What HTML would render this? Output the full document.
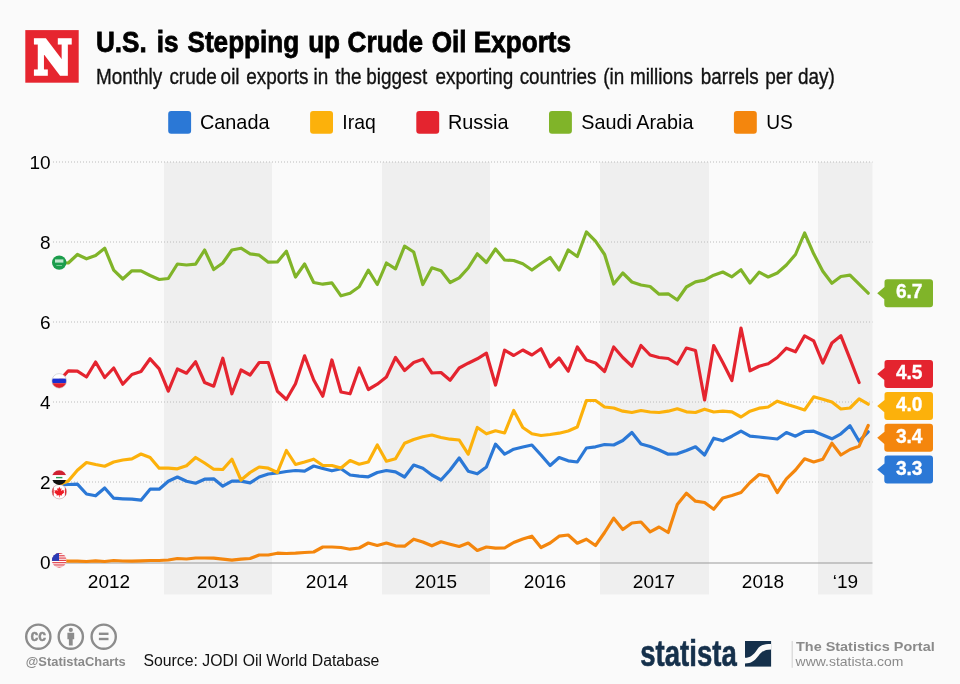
<!DOCTYPE html>
<html lang="en"><head><meta charset="utf-8"><title>U.S. is Stepping up Crude Oil Exports</title>
<style>html,body{margin:0;padding:0;background:#fafafa;overflow:hidden}svg{display:block}text{font-family:"Liberation Sans",sans-serif}</style></head><body>
<svg width="960" height="684" viewBox="0 0 960 684">
<rect width="960" height="684" fill="#fafafa"/>
<rect x="25.3" y="30.1" width="53.4" height="52.6" fill="#e6252f"/>
<text x="33.7" y="73.6" font-weight="bold" font-size="46" fill="#fff" stroke="#fff" stroke-width="3.6" stroke-linejoin="miter" textLength="38" lengthAdjust="spacingAndGlyphs" style="font-family:'DejaVu Serif','Liberation Serif',serif">N</text>
<text transform="scale(0.86 1)" y="52.2" font-weight="bold" font-size="30.4" fill="#000" stroke="#000" stroke-width="0.8"><tspan x="111.6">U.S. </tspan><tspan x="182.4">is </tspan><tspan x="218.0">Stepping </tspan><tspan x="358.3">up </tspan><tspan x="404.2">Crude </tspan><tspan x="501.9">Oil </tspan><tspan x="550.9">Exports</tspan></text>
<text transform="scale(0.88 1)" y="83.6" font-size="21.5" fill="#111" stroke="#111" stroke-width="0.35"><tspan x="109.1">Monthly </tspan><tspan x="192.5">crude </tspan><tspan x="250.7">oil </tspan><tspan x="279.9">exports </tspan><tspan x="356.2">in </tspan><tspan x="380.9">the </tspan><tspan x="416.2">biggest </tspan><tspan x="494.8">exporting </tspan><tspan x="590.5">countries </tspan><tspan x="685.6">(in </tspan><tspan x="715.8">millions </tspan><tspan x="796.4">barrels </tspan><tspan x="869.7">per </tspan><tspan x="906.9">day)</tspan></text>
<rect x="168.2" y="110.9" width="22.9" height="22.8" rx="3" fill="#2b78d6"/>
<text x="199.9" y="129.2" font-size="20.3" fill="#000" textLength="69.6" lengthAdjust="spacingAndGlyphs">Canada</text>
<rect x="310.1" y="110.9" width="22.9" height="22.8" rx="3" fill="#fcb10b"/>
<text x="342.3" y="129.2" font-size="20.3" fill="#000" textLength="33.4" lengthAdjust="spacingAndGlyphs">Iraq</text>
<rect x="416.3" y="110.9" width="22.9" height="22.8" rx="3" fill="#e4242f"/>
<text x="447.9" y="129.2" font-size="20.3" fill="#000" textLength="60.6" lengthAdjust="spacingAndGlyphs">Russia</text>
<rect x="549.0" y="110.9" width="22.9" height="22.8" rx="3" fill="#80b429"/>
<text x="581.2" y="129.2" font-size="20.3" fill="#000" textLength="112.2" lengthAdjust="spacingAndGlyphs">Saudi Arabia</text>
<rect x="733.9" y="110.9" width="22.9" height="22.8" rx="3" fill="#f4860d"/>
<text x="766.2" y="129.2" font-size="20.3" fill="#000" textLength="26.6" lengthAdjust="spacingAndGlyphs">US</text>
<rect x="164.0" y="162" width="108.0" height="432.5" fill="#efefef"/>
<rect x="382.0" y="162" width="108.0" height="432.5" fill="#efefef"/>
<rect x="600.0" y="162" width="109.0" height="432.5" fill="#efefef"/>
<rect x="818.0" y="162" width="54.5" height="432.5" fill="#efefef"/>
<line x1="53" x2="872.5" y1="482.0" y2="482.0" stroke="#bcbcbc" stroke-width="1" stroke-dasharray="1 2"/>
<line x1="53" x2="872.5" y1="402.0" y2="402.0" stroke="#bcbcbc" stroke-width="1" stroke-dasharray="1 2"/>
<line x1="53" x2="872.5" y1="322.0" y2="322.0" stroke="#bcbcbc" stroke-width="1" stroke-dasharray="1 2"/>
<line x1="53" x2="872.5" y1="242.0" y2="242.0" stroke="#bcbcbc" stroke-width="1" stroke-dasharray="1 2"/>
<line x1="53" x2="872.5" y1="162.0" y2="162.0" stroke="#bcbcbc" stroke-width="1" stroke-dasharray="1 2"/>
<line x1="53" x2="872.5" y1="563" y2="563" stroke="#9a9a9a" stroke-width="1.2"/>
<text x="50.7" y="568.5" text-anchor="end" font-size="19" fill="#000">0</text>
<text x="50.7" y="488.5" text-anchor="end" font-size="19" fill="#000">2</text>
<text x="50.7" y="408.5" text-anchor="end" font-size="19" fill="#000">4</text>
<text x="50.7" y="328.5" text-anchor="end" font-size="19" fill="#000">6</text>
<text x="50.7" y="248.5" text-anchor="end" font-size="19" fill="#000">8</text>
<text x="50.7" y="168.5" text-anchor="end" font-size="19" fill="#000">10</text>
<text x="109.0" y="587.5" text-anchor="middle" font-size="19" fill="#000">2012</text>
<text x="218.0" y="587.5" text-anchor="middle" font-size="19" fill="#000">2013</text>
<text x="327.0" y="587.5" text-anchor="middle" font-size="19" fill="#000">2014</text>
<text x="436.0" y="587.5" text-anchor="middle" font-size="19" fill="#000">2015</text>
<text x="545.0" y="587.5" text-anchor="middle" font-size="19" fill="#000">2016</text>
<text x="654.0" y="587.5" text-anchor="middle" font-size="19" fill="#000">2017</text>
<text x="763.0" y="587.5" text-anchor="middle" font-size="19" fill="#000">2018</text>
<text x="845.5" y="587.5" text-anchor="middle" font-size="19" fill="#000">‘19</text>
<polyline fill="none" stroke="#2b78d6" stroke-width="3.2" stroke-linejoin="round" stroke-linecap="round" points="59.2,485.0 68.3,484.5 77.4,484.2 86.5,494.0 95.6,495.8 104.7,488.0 113.7,498.2 122.8,498.8 131.9,499.2 141.0,500.2 150.1,489.2 159.2,489.2 168.3,481.2 177.4,477.0 186.5,481.2 195.6,483.2 204.6,479.2 213.7,478.8 222.8,486.2 231.9,481.2 241.0,481.2 250.1,482.8 259.2,477.0 268.3,474.0 277.4,473.0 286.4,471.5 295.5,470.5 304.6,471.2 313.7,466.0 322.8,468.5 331.9,470.8 341.0,468.8 350.1,475.0 359.2,476.2 368.3,476.8 377.3,472.5 386.4,470.5 395.5,471.8 404.6,477.0 413.7,465.0 422.8,468.2 431.9,475.0 441.0,480.0 450.1,470.0 459.2,458.0 468.2,471.2 477.3,473.8 486.4,467.0 495.5,444.2 504.6,454.2 513.7,449.2 522.8,447.0 531.9,445.0 541.0,455.0 550.1,465.5 559.1,457.5 568.2,460.8 577.3,462.0 586.4,448.0 595.5,446.8 604.6,444.5 613.7,445.0 622.8,440.5 631.9,432.5 641.0,444.0 650.1,446.5 659.1,450.0 668.2,454.2 677.3,453.8 686.4,450.5 695.5,446.8 704.6,455.0 713.7,438.2 722.8,440.8 731.9,436.2 741.0,431.2 750.0,436.2 759.1,437.0 768.2,438.0 777.3,439.0 786.4,432.5 795.5,436.2 804.6,431.5 813.7,431.2 822.8,435.0 831.9,438.8 840.9,433.8 850.0,425.8 859.1,441.2 868.2,431.8"/>
<polyline fill="none" stroke="#fcb10b" stroke-width="3.2" stroke-linejoin="round" stroke-linecap="round" points="59.2,484.5 68.3,481.0 77.4,470.3 86.5,462.5 95.6,464.5 104.7,466.2 113.7,462.0 122.8,460.0 131.9,458.8 141.0,454.0 150.1,457.5 159.2,468.2 168.3,468.2 177.4,468.8 186.5,465.8 195.6,457.5 204.6,463.0 213.7,469.2 222.8,469.5 231.9,459.2 241.0,480.0 250.1,472.5 259.2,467.0 268.3,468.2 277.4,472.5 286.4,450.5 295.5,464.5 304.6,462.0 313.7,459.2 322.8,465.5 331.9,465.5 341.0,468.0 350.1,460.5 359.2,464.2 368.3,462.0 377.3,445.0 386.4,461.2 395.5,458.8 404.6,443.2 413.7,439.5 422.8,436.8 431.9,435.0 441.0,437.5 450.1,439.2 459.2,440.0 468.2,454.2 477.3,427.5 486.4,433.8 495.5,430.8 504.6,433.0 513.7,410.5 522.8,427.5 531.9,433.8 541.0,435.5 550.1,434.5 559.1,433.2 568.2,431.0 577.3,427.0 586.4,400.5 595.5,400.5 604.6,407.0 613.7,408.0 622.8,411.2 631.9,412.5 641.0,410.5 650.1,412.0 659.1,412.5 668.2,411.2 677.3,408.8 686.4,411.8 695.5,412.5 704.6,409.2 713.7,412.0 722.8,411.2 731.9,411.8 741.0,417.0 750.0,411.2 759.1,408.2 768.2,407.0 777.3,401.2 786.4,404.2 795.5,407.0 804.6,410.0 813.7,396.8 822.8,399.2 831.9,402.0 840.9,409.0 850.0,408.0 859.1,398.8 868.2,404.2"/>
<polyline fill="none" stroke="#e4242f" stroke-width="3.2" stroke-linejoin="round" stroke-linecap="round" points="59.2,380.9 68.3,370.8 77.4,371.2 86.5,377.0 95.6,362.0 104.7,377.5 113.7,368.0 122.8,384.2 131.9,374.5 141.0,371.5 150.1,358.8 159.2,368.8 168.3,391.2 177.4,369.0 186.5,373.2 195.6,361.8 204.6,382.5 213.7,386.2 222.8,358.2 231.9,393.8 241.0,370.0 250.1,375.0 259.2,362.5 268.3,362.5 277.4,391.2 286.4,399.5 295.5,383.8 304.6,355.8 313.7,380.0 322.8,396.2 331.9,360.0 341.0,392.0 350.1,393.8 359.2,368.0 368.3,389.5 377.3,384.2 386.4,377.0 395.5,357.5 404.6,370.5 413.7,362.5 422.8,359.2 431.9,373.0 441.0,372.5 450.1,380.2 459.2,368.0 468.2,363.2 477.3,358.8 486.4,353.2 495.5,385.0 504.6,350.2 513.7,355.5 522.8,350.0 531.9,355.0 541.0,348.8 550.1,366.8 559.1,358.0 568.2,371.2 577.3,347.0 586.4,360.0 595.5,363.0 604.6,371.5 613.7,347.0 622.8,357.5 631.9,366.2 641.0,345.5 650.1,355.0 659.1,357.5 668.2,358.5 677.3,364.0 686.4,348.0 695.5,350.5 704.6,400.0 713.7,345.5 722.8,362.5 731.9,380.5 741.0,328.0 750.0,370.8 759.1,366.2 768.2,363.8 777.3,357.5 786.4,348.2 795.5,351.8 804.6,335.8 813.7,340.8 822.8,363.0 831.9,343.0 840.9,335.8 850.0,358.8 859.1,382.5"/>
<polyline fill="none" stroke="#80b429" stroke-width="3.2" stroke-linejoin="round" stroke-linecap="round" points="59.2,262.6 68.3,263.0 77.4,254.5 86.5,258.8 95.6,255.5 104.7,248.2 113.7,270.2 122.8,279.0 131.9,270.8 141.0,270.8 150.1,275.5 159.2,279.5 168.3,278.5 177.4,264.0 186.5,265.0 195.6,264.2 204.6,250.0 213.7,269.5 222.8,263.0 231.9,250.0 241.0,248.2 250.1,253.8 259.2,255.2 268.3,262.2 277.4,262.0 286.4,251.2 295.5,277.0 304.6,264.0 313.7,282.5 322.8,284.2 331.9,282.8 341.0,295.8 350.1,293.2 359.2,286.8 368.3,270.2 377.3,284.5 386.4,263.0 395.5,268.8 404.6,246.2 413.7,252.0 422.8,284.5 431.9,267.8 441.0,270.8 450.1,282.5 459.2,277.8 468.2,268.0 477.3,253.8 486.4,262.5 495.5,249.0 504.6,260.0 513.7,260.5 522.8,263.8 531.9,270.0 541.0,263.5 550.1,257.5 559.1,270.0 568.2,250.0 577.3,256.5 586.4,232.0 595.5,241.2 604.6,254.5 613.7,284.0 622.8,273.0 631.9,282.0 641.0,285.0 650.1,286.5 659.1,294.2 668.2,293.8 677.3,300.0 686.4,287.0 695.5,281.8 704.6,280.2 713.7,275.2 722.8,272.0 731.9,276.8 741.0,269.8 750.0,283.0 759.1,272.2 768.2,277.0 777.3,273.0 786.4,265.0 795.5,254.5 804.6,233.0 813.7,253.8 822.8,271.2 831.9,283.2 840.9,276.5 850.0,275.2 859.1,284.2 868.2,293.2"/>
<polyline fill="none" stroke="#f4860d" stroke-width="3.2" stroke-linejoin="round" stroke-linecap="round" points="59.2,560.5 68.3,561.2 77.4,561.2 86.5,561.5 95.6,560.8 104.7,561.5 113.7,560.5 122.8,561.0 131.9,561.2 141.0,560.8 150.1,560.5 159.2,560.5 168.3,560.0 177.4,558.5 186.5,559.0 195.6,558.0 204.6,558.0 213.7,558.2 222.8,559.2 231.9,560.2 241.0,559.2 250.1,558.5 259.2,555.0 268.3,555.0 277.4,553.2 286.4,553.5 295.5,553.2 304.6,552.5 313.7,552.0 322.8,547.0 331.9,547.0 341.0,547.5 350.1,549.2 359.2,548.0 368.3,543.0 377.3,545.5 386.4,543.0 395.5,545.8 404.6,546.2 413.7,539.2 422.8,542.0 431.9,545.8 441.0,541.8 450.1,544.2 459.2,546.5 468.2,543.0 477.3,550.5 486.4,547.0 495.5,548.2 504.6,548.0 513.7,542.5 522.8,539.0 531.9,536.2 541.0,547.5 550.1,543.0 559.1,536.2 568.2,535.0 577.3,543.2 586.4,539.2 595.5,545.5 604.6,532.5 613.7,518.2 622.8,529.5 631.9,523.0 641.0,522.0 650.1,531.8 659.1,527.0 668.2,532.5 677.3,504.5 686.4,493.2 695.5,501.2 704.6,502.5 713.7,509.2 722.8,498.0 731.9,495.5 741.0,492.5 750.0,482.5 759.1,474.5 768.2,476.2 777.3,492.5 786.4,478.8 795.5,470.0 804.6,458.8 813.7,462.0 822.8,459.2 831.9,443.2 840.9,455.0 850.0,449.5 859.1,446.2 868.2,425.5"/>
<defs>
<clipPath id="cca"><circle cx="59.3" cy="491.7" r="7.3"/></clipPath>
<clipPath id="ciq"><circle cx="59.2" cy="477.6" r="7.3"/></clipPath>
<clipPath id="cru"><circle cx="59.2" cy="380.9" r="7.3"/></clipPath>
<clipPath id="csa"><circle cx="59.2" cy="262.6" r="7.3"/></clipPath>
<clipPath id="cus"><circle cx="59.2" cy="560.4" r="7.3"/></clipPath>
</defs>
<g clip-path="url(#cca)"><rect x="51.8" y="484.2" width="15" height="15" fill="#fff"/><rect x="51.8" y="484.2" width="1.9" height="15" fill="#e5202b"/><rect x="64.9" y="484.2" width="1.9" height="15" fill="#e5202b"/>
<path transform="translate(59.3 491.7) scale(0.5)" fill="#ee1c25" d="M0,-10 L2,-6 L4.5,-7 L3.5,-1 L6.5,-4 L7,-2.2 L10,-2.8 L8.8,0.5 L10,1.5 L5,5.5 L5.8,7.5 L0.6,7 L0.6,11 L-0.6,11 L-0.6,7 L-5.8,7.5 L-5,5.5 L-10,1.5 L-8.8,0.5 L-10,-2.8 L-7,-2.2 L-6.5,-4 L-3.5,-1 L-4.5,-7 L-2,-6 Z"/></g>
<circle cx="59.3" cy="491.7" r="7.2" fill="none" stroke="#b98a8f" stroke-width="0.5"/>
<g clip-path="url(#ciq)"><rect x="51.7" y="470.1" width="15" height="5.2" fill="#cf2331"/><rect x="51.7" y="475.2" width="15" height="4.8" fill="#fff"/><rect x="51.7" y="480.0" width="15" height="5.2" fill="#111"/>
<rect x="56.0" y="476.9" width="6.4" height="1.4" fill="#2c9a55"/></g>
<g clip-path="url(#cru)"><rect x="51.7" y="373.4" width="15" height="5.4" fill="#fff"/><rect x="51.7" y="378.6" width="15" height="4.6" fill="#1a2fd0"/><rect x="51.7" y="383.2" width="15" height="5.4" fill="#e0202c"/></g>
<circle cx="59.2" cy="380.9" r="7.3" fill="none" stroke="#c4c4c4" stroke-width="0.6"/>
<circle cx="59.2" cy="262.6" r="7.2" fill="#1b9d4c"/>
<rect x="55.0" y="259.4" width="8.4" height="3.2" fill="#bfe6cc"/><rect x="56.4" y="265.0" width="5.6" height="0.8" fill="#8fd3a6"/>
<g clip-path="url(#cus)"><rect x="51.7" y="552.9" width="15" height="15" fill="#fff"/><rect x="51.7" y="552.90" width="15" height="1.15" fill="#e03a45"/><rect x="51.7" y="555.20" width="15" height="1.15" fill="#e03a45"/><rect x="51.7" y="557.50" width="15" height="1.15" fill="#e03a45"/><rect x="51.7" y="559.80" width="15" height="1.15" fill="#e03a45"/><rect x="51.7" y="562.10" width="15" height="1.15" fill="#e03a45"/><rect x="51.7" y="564.40" width="15" height="1.15" fill="#e03a45"/><rect x="51.7" y="566.70" width="15" height="1.15" fill="#e03a45"/><rect x="51.7" y="552.9" width="7.3" height="8" fill="#2a3bb5"/></g>
<path d="M877.2,293.2 L884.5,287.1 V282.2 Q884.3,279.2 887.3,279.2 H930 Q933,279.2 933,282.2 V304.2 Q933,307.2 930,307.2 H887.3 Q884.3,307.2 884.3,304.2 V299.3 Z" fill="#80b429"/>
<text x="909.2" y="298.2" text-anchor="middle" font-weight="bold" font-size="19.6" fill="#fff" stroke="#fff" stroke-width="0.35" textLength="26.6" lengthAdjust="spacingAndGlyphs">6.7</text>
<path d="M877.2,374.0 L884.5,367.9 V363.0 Q884.3,360.0 887.3,360.0 H930 Q933,360.0 933,363.0 V385.0 Q933,388.0 930,388.0 H887.3 Q884.3,388.0 884.3,385.0 V380.1 Z" fill="#e4242f"/>
<text x="909.2" y="379.0" text-anchor="middle" font-weight="bold" font-size="19.6" fill="#fff" stroke="#fff" stroke-width="0.35" textLength="26.6" lengthAdjust="spacingAndGlyphs">4.5</text>
<path d="M877.2,406.1 L884.5,400.0 V395.1 Q884.3,392.1 887.3,392.1 H930 Q933,392.1 933,395.1 V417.1 Q933,420.1 930,420.1 H887.3 Q884.3,420.1 884.3,417.1 V412.2 Z" fill="#fcb10b"/>
<text x="909.2" y="411.1" text-anchor="middle" font-weight="bold" font-size="19.6" fill="#fff" stroke="#fff" stroke-width="0.35" textLength="26.6" lengthAdjust="spacingAndGlyphs">4.0</text>
<path d="M877.2,437.8 L884.5,431.7 V426.8 Q884.3,423.8 887.3,423.8 H930 Q933,423.8 933,426.8 V448.8 Q933,451.8 930,451.8 H887.3 Q884.3,451.8 884.3,448.8 V443.9 Z" fill="#f4860d"/>
<text x="909.2" y="442.8" text-anchor="middle" font-weight="bold" font-size="19.6" fill="#fff" stroke="#fff" stroke-width="0.35" textLength="26.6" lengthAdjust="spacingAndGlyphs">3.4</text>
<path d="M877.2,469.5 L884.5,463.4 V458.5 Q884.3,455.5 887.3,455.5 H930 Q933,455.5 933,458.5 V480.5 Q933,483.5 930,483.5 H887.3 Q884.3,483.5 884.3,480.5 V475.6 Z" fill="#2b78d6"/>
<text x="909.2" y="474.5" text-anchor="middle" font-weight="bold" font-size="19.6" fill="#fff" stroke="#fff" stroke-width="0.35" textLength="26.6" lengthAdjust="spacingAndGlyphs">3.3</text>
<circle cx="38.3" cy="636.7" r="12.1" fill="none" stroke="#8c8c8c" stroke-width="2.4"/>
<circle cx="70.8" cy="636.7" r="12.1" fill="none" stroke="#8c8c8c" stroke-width="2.4"/>
<circle cx="103.7" cy="636.7" r="12.1" fill="none" stroke="#8c8c8c" stroke-width="2.4"/>
<text x="38.3" y="641.3" text-anchor="middle" font-weight="bold" font-size="17" fill="#8c8c8c" stroke="#8c8c8c" stroke-width="0.5" textLength="15.6" lengthAdjust="spacingAndGlyphs">cc</text>
<circle cx="70.8" cy="629.9" r="2.1" fill="#8c8c8c"/><path d="M67.4,632.7 h6.8 v6.6 h-1.5 v6.2 h-3.8 v-6.2 h-1.5 z" fill="#8c8c8c"/>
<rect x="98.9" y="632.6" width="9.6" height="2.4" fill="#8c8c8c"/><rect x="98.9" y="637.8" width="9.6" height="2.4" fill="#8c8c8c"/>
<text x="25.8" y="665.8" font-weight="bold" font-size="12.2" fill="#8a8a8a" textLength="100" lengthAdjust="spacingAndGlyphs">@StatistaCharts</text>
<text x="143.4" y="665.6" font-size="15.6" fill="#111" textLength="236" lengthAdjust="spacingAndGlyphs">Source: JODI Oil World Database</text>
<text x="640.3" y="665.5" font-weight="bold" font-size="36" fill="#15304b" stroke="#15304b" stroke-width="0.6" textLength="96.4" lengthAdjust="spacingAndGlyphs">statista</text>
<rect x="745" y="641" width="26.1" height="25.6" fill="#15304b"/>
<path d="M745,657.7 C750,657.7 753.5,655 757.2,649.4 C760.5,645 764,643.9 771.1,643.9 L771.1,649.4 C765.5,649.4 762,651 758.5,655.8 C754.5,661 751,663.5 745,663.5 Z" fill="#fafafa"/>
<line x1="792.2" x2="792.2" y1="641" y2="667.8" stroke="#cfcfcf" stroke-width="1"/>
<text x="796" y="651.3" font-weight="bold" font-size="13.6" fill="#8a8a8a" textLength="138.7" lengthAdjust="spacingAndGlyphs">The Statistics Portal</text>
<text x="795.6" y="665.9" font-size="12.8" fill="#8a8a8a" textLength="107.8" lengthAdjust="spacingAndGlyphs">www.statista.com</text>
</svg></body></html>
